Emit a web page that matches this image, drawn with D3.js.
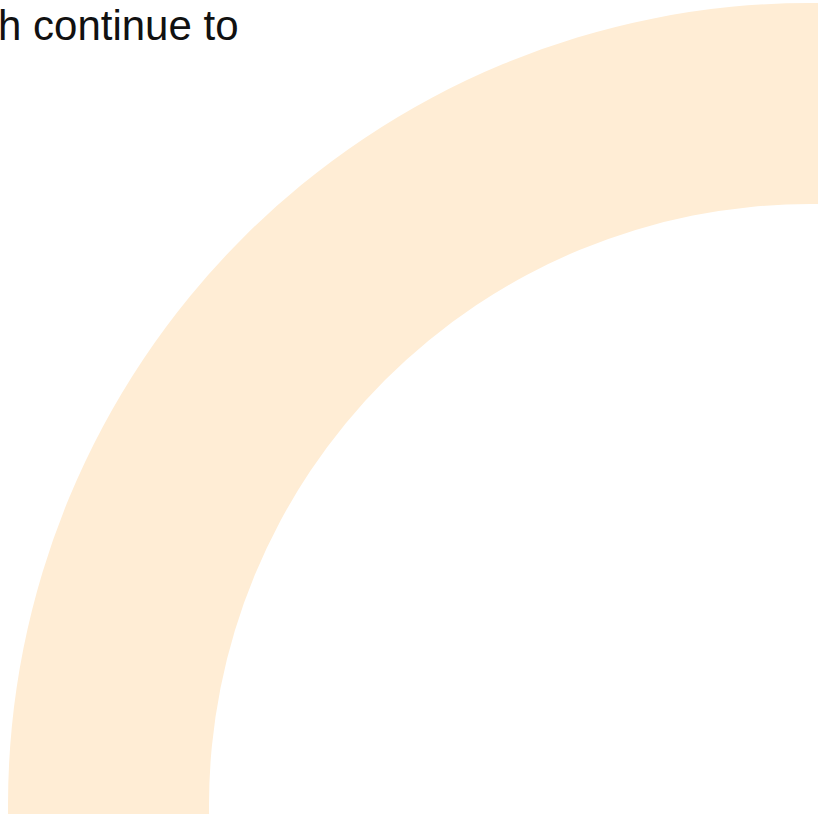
<!DOCTYPE html>
<html>
<head>
<meta charset="utf-8">
<script src="https://cdn.jsdelivr.net/npm/d3@7"></script>
<style>
  body { margin: 0; background: #fff; }
  svg { display: block; }
</style>
</head>
<body>
<div id="vis_container"></div>
<script>
// chart values
var categories = ["Share"];
var values = [100];
var titleText = "h continue to";

function buildDonut(){

    // canvas size
    var width = 818;
    var height = 814;

    // ring geometry
    var cx = 810;
    var cy = 805;
    var outerR = 802;
    var innerR = 601;

    var svg = d3.select("#vis_container")
        .append("svg")
        .attr("width", width)
        .attr("height", height);

    var pie = d3.pie()
        .sort(null)
        .value(function (d, i) { return values[i]; });

    var arc = d3.arc()
        .innerRadius(innerR)
        .outerRadius(outerR);

    var color = d3.scaleOrdinal()
        .domain(categories)
        .range(["#ffedd5"]);

    svg.append("g")
        .attr("transform", "translate(" + cx + "," + cy + ")")
        .selectAll("path")
        .data(pie(categories))
        .enter()
        .append("path")
        .attr("d", arc)
        .attr("fill", function (d) { return color(d.data); });

    // title (cut off on the left)
    svg.append("text")
        .attr("x", -2)
        .attr("y", 40)
        .style("font-family", "'Liberation Sans', Arial, sans-serif")
        .style("font-size", "42px")
        .style("fill", "#111")
        .text(titleText);
}

buildDonut();
</script>
</body>
</html>
